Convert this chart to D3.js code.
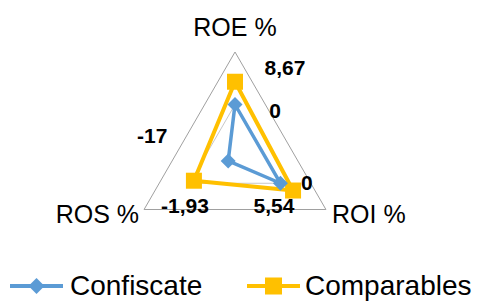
<!DOCTYPE html>
<html><head><meta charset="utf-8">
<script src="https://cdn.jsdelivr.net/npm/d3@7"></script>
<style>html,body{margin:0;padding:0;background:#fff}svg{display:block}</style>
</head><body><div id="chart"></div>
<script>
const categories = ["ROE %", "ROI %", "ROS %"];
const confiscate = [0, 0, -17];
const comparables = [8.67, 5.54, -1.93];
const confiscateLabels = ["0", "0", "-17"];
const comparablesLabels = ["8,67", "5,54", "-1,93"];
const gridValues = [0, 20];
const seriesNames = ["Confiscate", "Comparables"];

const W = 477, H = 302;
const cx = 235, cy = 157, R = 105;
const svg = d3.select("#chart").append("svg").attr("width", W).attr("height", H);

const rScale = d3.scaleLinear().domain([-20, 20]).range([0, R]);
const angle = d3.scalePoint().domain(categories).range([0, 2 * Math.PI * (categories.length - 1) / categories.length]);
const pt = (c, v) => {
  const a = angle(c) - Math.PI / 2;
  return [cx + rScale(v) * Math.cos(a), cy + rScale(v) * Math.sin(a)];
};
const line = d3.line();

// grid
gridValues.forEach((g, i) => {
  svg.append("path")
    .attr("d", line(categories.map(c => pt(c, g))) + "Z")
    .attr("fill", "none")
    .attr("stroke", i === gridValues.length - 1 ? "#a0a0a0" : "#c8c8c8")
    .attr("stroke-width", 1);
});

const blue = "#5b9bd5", gold = "#ffc000";

// series
function drawSeries(vals, color, width, marker) {
  const pts = categories.map((c, i) => pt(c, vals[i]));
  svg.append("path").attr("d", line(pts) + "Z").attr("fill", "none")
    .attr("stroke", color).attr("stroke-width", width).attr("stroke-linejoin", "round");
  pts.forEach(p => marker(p[0], p[1]));
}
const square = (x, y, s) => svg.append("rect").attr("x", x - s / 2).attr("y", y - s / 2)
  .attr("width", s).attr("height", s).attr("fill", gold);
const diamond = (x, y, s) => svg.append("path")
  .attr("d", `M${x},${y - s / 2}L${x + s / 2},${y}L${x},${y + s / 2}L${x - s / 2},${y}Z`).attr("fill", blue);

drawSeries(comparables, gold, 4, (x, y) => square(x, y, 16));
drawSeries(confiscate, blue, 3.5, (x, y) => diamond(x, y, 15));

// data labels (offsets from points)
const compOff = [[50, -7], [-19, 22.5], [-9, 32]];
const confOff = [[40, 13.5], [26.5, 7], [-76, -18]];
function labels(vals, texts, off) {
  categories.forEach((c, i) => {
    const p = pt(c, vals[i]);
    svg.append("text").attr("x", p[0] + off[i][0]).attr("y", p[1] + off[i][1])
      .attr("text-anchor", "middle").attr("font-family", "Liberation Sans, Arial, sans-serif")
      .attr("font-weight", "bold").attr("font-size", 21).attr("fill", "#000").text(texts[i]);
  });
}
labels(comparables, comparablesLabels, compOff);
labels(confiscate, confiscateLabels, confOff);

// category labels
const catPos = [[235, 36, "middle"], [332, 223, "start"], [139, 223, "end"]];
categories.forEach((c, i) => {
  svg.append("text").attr("x", catPos[i][0]).attr("y", catPos[i][1]).attr("text-anchor", catPos[i][2])
    .attr("font-family", "Liberation Sans, Arial, sans-serif").attr("font-size", 25).attr("fill", "#000").text(c);
});

// legend
const legY = 286;
const leg = [{x0: 10, x1: 63, m: 36.5, tx: 70, color: blue, mk: "d"}, {x0: 247, x1: 300, m: 273.5, tx: 305, color: gold, mk: "s"}];
leg.forEach((l, i) => {
  svg.append("line").attr("x1", l.x0).attr("x2", l.x1).attr("y1", legY).attr("y2", legY)
    .attr("stroke", l.color).attr("stroke-width", 4);
  if (l.mk === "d") diamond(l.m, legY, 16); else square(l.m, legY, 17);
  svg.append("text").attr("x", l.tx).attr("y", 295).attr("font-family", "Liberation Sans, Arial, sans-serif")
    .attr("font-size", 28).attr("fill", "#000").text(seriesNames[i]);
});
</script></body></html>
